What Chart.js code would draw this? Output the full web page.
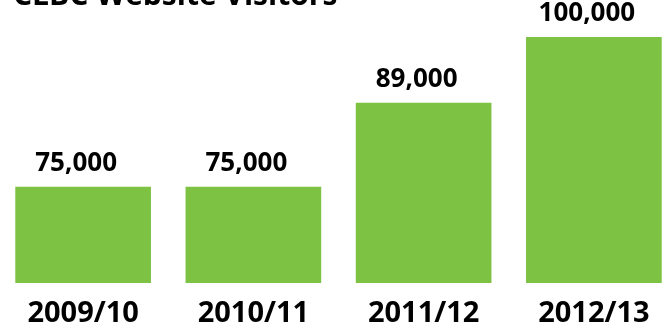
<!DOCTYPE html>
<html><head><meta charset="utf-8">
<script src="https://cdn.jsdelivr.net/npm/chart.js@4/dist/chart.umd.min.js"></script>
<style>
html,body{margin:0;padding:0;background:#fff;overflow:hidden;width:668px;height:330px}
#wrap{position:absolute;left:-2px;top:0;width:681px;height:330px}
</style></head>
<body>
<div id="wrap"><canvas id="c"></canvas></div>
<script>
const title = 'CLBC Website Visitors';
const categories = ['2009/10', '2010/11', '2011/12', '2012/13'];
const visitors = [75000, 75000, 89000, 100000];

const FONT = '"Open Sans", sans-serif';

const overlay = {
  id: 'overlay',
  afterDatasetsDraw(chart) {
    const ctx = chart.ctx;
    ctx.save();
    ctx.fillStyle = '#000';
    ctx.font = 'bold 26px ' + FONT;
    ctx.textAlign = 'center';
    ctx.textBaseline = 'alphabetic';
    const meta = chart.getDatasetMeta(0);
    meta.data.forEach((bar, i) => {
      ctx.fillText(visitors[i].toLocaleString('en-US'), bar.x - 7, bar.y - 16);
    });
    ctx.textAlign = 'left';
    ctx.font = 'bold 30px ' + FONT;
    ctx.fillText(title, 15, 5);
    ctx.restore();
  }
};

new Chart(document.getElementById('c'), {
  type: 'bar',
  data: {
    labels: categories,
    datasets: [{
      data: visitors,
      backgroundColor: '#7dc242',
      barThickness: 135
    }]
  },
  options: {
    responsive: true,
    maintainAspectRatio: false,
    animation: false,
    layout: { padding: { top: 37, left: 0, right: 0, bottom: 0 } },
    plugins: { legend: { display: false }, tooltip: { enabled: false }, title: { display: false } },
    scales: {
      x: {
        grid: { display: false, drawTicks: false },
        border: { display: false },
        ticks: { color: '#000', font: { family: FONT, size: 29, weight: 'bold' }, padding: 13 },
        afterFit(scale) { scale.height = 47; }
      },
      y: {
        display: false,
        min: 59000,
        max: 100000
      }
    }
  },
  plugins: [overlay]
});
</script>
</body></html>
